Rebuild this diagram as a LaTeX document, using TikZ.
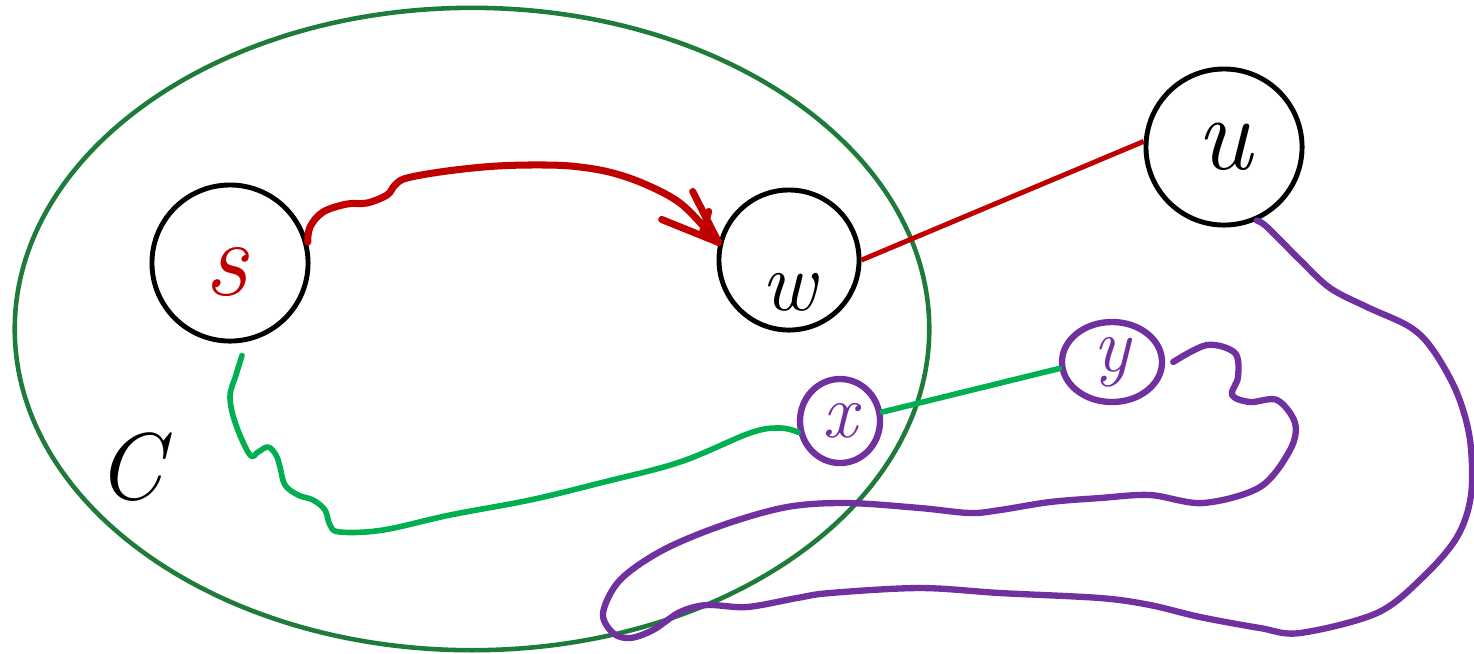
\documentclass[tikz,border=0pt]{standalone}
\usetikzlibrary{shapes.geometric}
\definecolor{cred}{HTML}{C00000}
\definecolor{dgreen}{HTML}{1E7B3A}
\definecolor{lgreen}{HTML}{00B050}
\definecolor{cpurple}{HTML}{7030A0}
\tikzset{
  vertex/.style={circle,draw,line width=1.4pt,inner sep=0pt},
  hand/.style={ellipse,draw=cpurple,line width=1.8pt,inner sep=0pt},
  bigfont/.style={font=\fontsize{#1}{#1}\selectfont\itshape},
  redcurve/.style={draw=cred,line width=2pt,line cap=round,line join=round},
  redline/.style={draw=cred,line width=1.4pt},
  greenline/.style={draw=lgreen,line width=1.6pt,line cap=round,line join=round},
  purplepath/.style={draw=cpurple,line width=1.8pt,line cap=round,line join=round},
}
\begin{document}
\begin{tikzpicture}[x=0.01cm,y=-0.01cm]
\useasboundingbox (0,0) rectangle (1474,653);
% region C
\node (C) [ellipse,draw=dgreen,line width=1.3pt,inner sep=0pt,
  minimum width=9.14cm,minimum height=6.42cm] at (472,329) {};
\node (Clabel) [bigfont=27] at (130,467) {C};
% vertices
\node (s) [vertex,minimum size=1.56cm,
  label={[bigfont=31,text=cred,xshift=-0.04cm,yshift=-0.09cm]center:s}] at (230,263) {};
\node (w) [vertex,minimum size=1.40cm,
  label={[bigfont=24,yshift=-0.32cm]center:w}] at (789,260) {};
\node (u) [vertex,minimum size=1.56cm,
  label={[bigfont=30]center:u}] at (1224,147) {};
\node (x) [hand,minimum width=0.80cm,minimum height=0.84cm,text=cpurple,bigfont=22] at (840,421) {x};
\node (y) [hand,minimum width=1.00cm,minimum height=0.80cm,text=cpurple,bigfont=22] at (1112,362) {y};
% helper coordinates
\coordinate (sstart) at ([xshift=0.12cm,yshift=-0.12cm]s.south);
\coordinate (yend) at ([xshift=0.08cm]y.east);
% red curve s -> w with hand-drawn head
\draw[redcurve] plot[smooth,tension=0.6] coordinates {
  (s.15) (310,227) (323,212) (347,204) (367,203) (387,195) (395,185) (407,178)
  (447,171) (497,166) (547,165) (580,167) (613,173) (647,185) (680,203) (707,230) (w.166)};
\draw[redcurve] (w.166) -- ++(-57,-23);
\draw[redcurve] (w.166) -- ++(-26,-51);
\draw[redcurve] ([shift={(-10,-31)}]w.166) -- ++(-6,20);
% red line w -- u
\draw[redline] (w.0) -- (u.176);
% green x -- y
\draw[greenline] (x.12) -- (y.187);
% green wiggly s -> x
\draw[greenline] plot[smooth,tension=0.6] coordinates {
  (sstart) (236,375) (230,397) (236,425) (250,455) (258,452) (268,447) (276,455)
  (280,467) (285,485) (298,495) (313,500) (325,510) (330,525) (340,532) (383,530)
  (450,515) (530,500) (600,483) (680,462) (750,433) (780,428) (x.195)};
% purple path u -> y
\draw[purplepath] plot[smooth,tension=0.55] coordinates {
  (u.-66) (1267,227) (1300,260) (1330,288) (1367,307) (1410,327) (1433,350)
  (1457,393) (1470,440) (1471,495) (1457,537) (1423,577) (1377,613) (1300,633)
  (1260,628) (1200,617) (1150,605) (1100,598) (1000,593) (920,588) (830,593)
  (797,598) (747,607) (707,605) (680,612) (653,630) (630,638) (613,633) (603,613)
  (620,580) (663,550) (723,525) (787,507) (847,503) (920,508) (970,513) (1000,510)
  (1050,502) (1100,498) (1150,495) (1203,503) (1260,487) (1290,450) (1295,423)
  (1277,400) (1250,402) (1232,395) (1238,377) (1235,353) (1207,345) (yend)};
\end{tikzpicture}
\end{document}
